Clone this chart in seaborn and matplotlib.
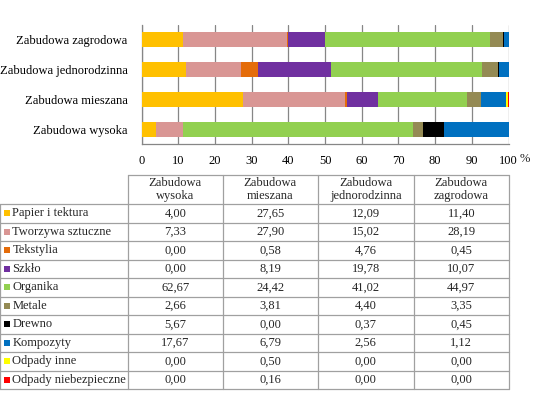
import matplotlib
matplotlib.use("Agg")
import matplotlib.pyplot as plt
import seaborn as sns
import pandas as pd
import numpy as np

categories = ["Zabudowa wysoka", "Zabudowa mieszana", "Zabudowa jednorodzinna", "Zabudowa zagrodowa"]
table_headers = ["Zabudowa\nwysoka", "Zabudowa\nmieszana", "Zabudowa\njednorodzinna", "Zabudowa\nzagrodowa"]
materials = ["Papier i tektura", "Tworzywa sztuczne", "Tekstylia", "Szkło", "Organika",
             "Metale", "Drewno", "Kompozyty", "Odpady inne", "Odpady niebezpieczne"]
colors = ["#FFC000", "#D99694", "#E46C0A", "#7030A0", "#92D050",
          "#948A54", "#000000", "#0070C0", "#FFFF00", "#FF0000"]

papier = [4.00, 27.65, 12.09, 11.40]
tworzywa = [7.33, 27.90, 15.02, 28.19]
tekstylia = [0.00, 0.58, 4.76, 0.45]
szklo = [0.00, 8.19, 19.78, 10.07]
organika = [62.67, 24.42, 41.02, 44.97]
metale = [2.66, 3.81, 4.40, 3.35]
drewno = [5.67, 0.00, 0.37, 0.45]
kompozyty = [17.67, 6.79, 2.56, 1.12]
odpady_inne = [0.00, 0.50, 0.00, 0.00]
odpady_niebezp = [0.00, 0.16, 0.00, 0.00]

series = [papier, tworzywa, tekstylia, szklo, organika, metale, drewno,
          kompozyty, odpady_inne, odpady_niebezp]

sns.set_theme(style="white")
plt.rcParams["font.family"] = ["Liberation Serif", "DejaVu Serif"]

FS = 9.0
fig = plt.figure(figsize=(5.40, 4.11), dpi=100)
W, H = 540, 411

# ---- bar chart ----
ax = fig.add_axes([141.5 / W, 1 - 144 / H, (508.5 - 141.5) / W, (144 - 25) / H])
bar_order = ["Zabudowa zagrodowa", "Zabudowa jednorodzinna", "Zabudowa mieszana", "Zabudowa wysoka"]

df = pd.DataFrame({m: s for m, s in zip(materials, series)}, index=categories)
cum = df.cumsum(axis=1)
for m, c in reversed(list(zip(materials, colors))):
    d = pd.DataFrame({"cat": categories, "val": cum[m].values})
    sns.barplot(data=d, x="val", y="cat", order=bar_order, color=c, width=0.5,
                saturation=1, linewidth=0, ax=ax, zorder=3)

ax.set_xlim(0, 100)
ax.set_xticks(np.arange(0, 101, 10))
ax.set_xticklabels([str(v) for v in range(0, 101, 10)])
ax.set_xlabel("")
ax.set_ylabel("")
ax.grid(axis="x", color="#868686", linewidth=0.9, zorder=0)
ax.grid(axis="y", visible=False)
ax.set_axisbelow(True)
for s in ["top", "right"]:
    ax.spines[s].set_visible(False)
for s in ["left", "bottom"]:
    ax.spines[s].set_color("#868686")
    ax.spines[s].set_linewidth(0.9)
ax.tick_params(axis="both", length=0, labelsize=FS, colors="black")
ax.tick_params(axis="x", pad=8)
ax.tick_params(axis="y", pad=10)

# ---- table ----
tax = fig.add_axes([0, 0, 1, 1])
tax.set_xlim(0, W)
tax.set_ylim(H, 0)
tax.axis("off")
tax.text(520, 158.5, "%", ha="left", va="center", fontsize=FS)
col_x = [0, 127.5, 223, 317.5, 414, 508.5]
top, head_bot = 175, 204
row_h = (389 - 204) / 10
line_c = "#A0A0A0"
lw = 0.9
# horizontal lines
tax.plot([col_x[1], col_x[-1]], [top, top], color=line_c, lw=lw)
for i in range(11):
    y = head_bot + i * row_h
    tax.plot([col_x[0], col_x[-1]], [y, y], color=line_c, lw=lw)
# vertical lines
tax.plot([col_x[0], col_x[0]], [head_bot, 389], color=line_c, lw=lw)
for x in col_x[1:]:
    tax.plot([x, x], [top, 389], color=line_c, lw=lw)
# headers
for j, h in enumerate(table_headers):
    cx = (col_x[j + 1] + col_x[j + 2]) / 2
    tax.text(cx, (top + head_bot) / 2, h, ha="center", va="center", fontsize=FS,
             linespacing=1.05)
# rows
for i, (m, c, s) in enumerate(zip(materials, colors, series)):
    cy = head_bot + (i + 0.5) * row_h
    tax.add_patch(plt.Rectangle((4, cy - 3), 6, 6, color=c, lw=0))
    tax.text(12.5, cy, m, ha="left", va="center", fontsize=FS)
    for j, v in enumerate(s):
        cx = (col_x[j + 1] + col_x[j + 2]) / 2
        tax.text(cx, cy, f"{v:.2f}".replace(".", ","), ha="center", va="center", fontsize=FS)

fig.savefig("out.png", dpi=100)
